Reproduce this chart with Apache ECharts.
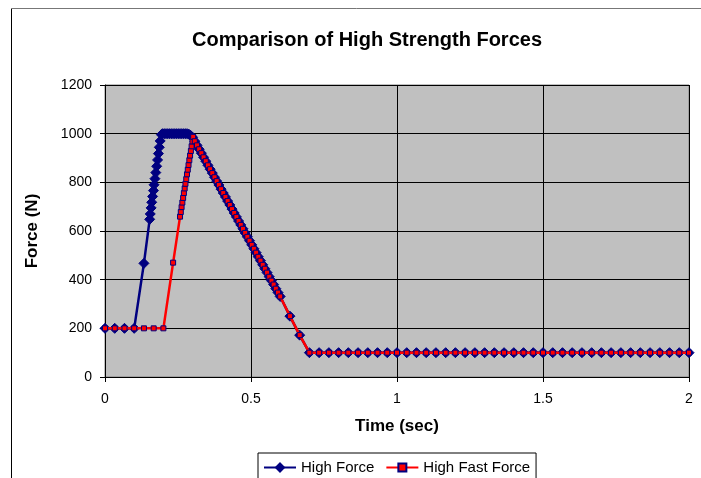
<!DOCTYPE html>
<html>
<head>
<meta charset="utf-8">
<script src="https://cdn.jsdelivr.net/npm/echarts@6/dist/echarts.min.js"></script>
<style>
  html, body { margin: 0; padding: 0; background: #fff; }
  #chart { width: 701px; height: 478px; }
</style>
</head>
<body>
<div id="chart"></div>
<script>
// ---- Data ----
const xTicks = [0, 0.5, 1, 1.5, 2];
const yTicks = [0, 200, 400, 600, 800, 1000, 1200];

// High Force: start + rise + plateau
const hfStartTime  = [0, 0.0333, 0.0667, 0.1, 0.1333, 0.153, 0.155, 0.158, 0.160, 0.163, 0.166, 0.168, 0.171, 0.174, 0.177, 0.180, 0.183, 0.186, 0.189, 0.193,
                      0.197, 0.203, 0.209, 0.215, 0.221, 0.227, 0.233, 0.239, 0.245, 0.251, 0.257, 0.263, 0.269, 0.275, 0.281, 0.287, 0.293];
const hfStartForce = [200, 200, 200, 200, 467, 648, 670, 695, 718, 742, 766, 790, 815, 840, 866, 892, 918, 944, 970, 996,
                      1000, 1000, 1000, 1000, 1000, 1000, 1000, 1000, 1000, 1000, 1000, 1000, 1000, 1000, 1000, 998, 993];

// High Fast Force: start + rise
const hffStartTime  = [0, 0.0333, 0.0667, 0.1, 0.1333, 0.1667, 0.2, 0.2333, 0.257, 0.2596, 0.2623, 0.2649, 0.2676, 0.2702, 0.2729, 0.2755, 0.2782, 0.2808,
                       0.2835, 0.2861, 0.2888, 0.2914, 0.2941, 0.2967, 0.2994, 0.302];
const hffStartForce = [200, 200, 200, 200, 200, 200, 200, 470, 659, 678, 698, 717, 736, 756, 775, 794, 813, 833,
                       852, 871, 891, 910, 929, 948, 968, 987];

// Shared descent (both series overlap)
const descentTime  = [0.3075, 0.315, 0.3225, 0.330, 0.3375, 0.345, 0.3525, 0.360, 0.3675, 0.375, 0.3825, 0.390, 0.3975, 0.405, 0.4125, 0.420, 0.4275, 0.435,
                      0.4425, 0.450, 0.4575, 0.465, 0.4725, 0.480, 0.4875, 0.495, 0.5025, 0.510, 0.5175, 0.525, 0.5325, 0.540, 0.5475, 0.555, 0.5625,
                      0.570, 0.5775, 0.585, 0.5925, 0.600, 0.6333, 0.6667];
const descentForce = [969, 952, 936, 920, 903, 887, 870, 854, 838, 821, 805, 789, 772, 756, 740, 723, 707, 690,
                      674, 658, 641, 625, 609, 592, 576, 560, 543, 527, 511, 494, 478, 461, 445, 429, 412,
                      396, 380, 363, 347, 331, 250, 172];

// Shared tail at 100 N
const tailTime  = [0.7, 0.7333, 0.7667, 0.8, 0.8333, 0.8667, 0.9, 0.9333, 0.9667, 1.0, 1.0333, 1.0667, 1.1, 1.1333, 1.1667, 1.2, 1.2333, 1.2667, 1.3, 1.3333,
                   1.3667, 1.4, 1.4333, 1.4667, 1.5, 1.5333, 1.5667, 1.6, 1.6333, 1.6667, 1.7, 1.7333, 1.7667, 1.8, 1.8333, 1.8667, 1.9, 1.9333, 1.9667, 2.0];
const tailForce = [100, 100, 100, 100, 100, 100, 100, 100, 100, 100, 100, 100, 100, 100, 100, 100, 100, 100, 100, 100,
                   100, 100, 100, 100, 100, 100, 100, 100, 100, 100, 100, 100, 100, 100, 100, 100, 100, 100, 100, 100];

const seriesNames = ['High Force', 'High Fast Force'];

function pairs(t, f) { return t.map((v, i) => [v, f[i]]); }

const hfData = pairs(hfStartTime, hfStartForce)
  .concat([[0.300, 985]])
  .concat(pairs(descentTime, descentForce))
  .concat(pairs(tailTime, tailForce));
const hffData = pairs(hffStartTime, hffStartForce)
  .concat(pairs(descentTime, descentForce))
  .concat(pairs(tailTime, tailForce));

const FONT = 'Liberation Sans, Arial, sans-serif';
const chart = echarts.init(document.getElementById('chart'), null, { renderer: 'canvas' });
chart.setOption({
  animation: false,
  backgroundColor: '#ffffff',
  title: {
    text: 'Comparison of High Strength Forces',
    left: 362, top: 25, textAlign: 'center',
    textStyle: { fontFamily: FONT, fontSize: 20, fontWeight: 'bold', color: '#000' }
  },
  graphic: [
    { type: 'line', shape: { x1: 11.5, y1: 8.5, x2: 11.5, y2: 478 }, style: { stroke: '#000', lineWidth: 1 }, silent: true },
    { type: 'line', shape: { x1: 11.5, y1: 8.5, x2: 701, y2: 8.5 }, style: { stroke: '#777', lineWidth: 1 }, silent: true }
  ],
  legend: {
    left: 258, top: 453,
    padding: [7, 6, 30, 5],
    itemGap: 11, itemWidth: 32, itemHeight: 10,
    borderColor: '#000', borderWidth: 1,
    textStyle: { fontFamily: FONT, fontSize: 15, color: '#000' },
    data: seriesNames
  },
  grid: {
    left: 105, top: 85, width: 584, height: 292,
    show: true, backgroundColor: '#c0c0c0', borderColor: '#808080', borderWidth: 1
  },
  xAxis: {
    type: 'value', min: xTicks[0], max: xTicks[xTicks.length - 1], interval: 0.5,
    name: 'Time (sec)', nameLocation: 'middle', nameGap: 41,
    nameTextStyle: { fontFamily: FONT, fontSize: 17, fontWeight: 'bold', color: '#000' },
    axisLine: { show: true, lineStyle: { color: '#000', width: 1 } },
    axisTick: { show: true, inside: false, length: 5, lineStyle: { color: '#000' } },
    axisLabel: { fontFamily: FONT, fontSize: 14, color: '#000', margin: 15, formatter: v => String(v) },
    splitLine: { show: true, lineStyle: { color: '#000', width: 1 } }
  },
  yAxis: {
    type: 'value', min: yTicks[0], max: yTicks[yTicks.length - 1], interval: 200,
    name: 'Force (N)', nameLocation: 'middle', nameGap: 64,
    nameTextStyle: { fontFamily: FONT, fontSize: 17, fontWeight: 'bold', color: '#000' },
    axisLine: { show: true, lineStyle: { color: '#000', width: 1 } },
    axisTick: { show: true, inside: false, length: 5, lineStyle: { color: '#000' } },
    axisLabel: { fontFamily: FONT, fontSize: 14, color: '#000', margin: 13, formatter: v => String(v) },
    splitLine: { show: true, lineStyle: { color: '#000', width: 1 } }
  },
  series: [
    {
      name: seriesNames[0], type: 'line', data: hfData, z: 2,
      symbol: 'diamond', symbolSize: 10, showSymbol: true,
      lineStyle: { color: '#000080', width: 2.5 },
      itemStyle: { color: '#000080', borderColor: '#000080', borderWidth: 1 }
    },
    {
      name: seriesNames[1], type: 'line', data: hffData, z: 3,
      symbol: 'rect', symbolSize: 5, showSymbol: true,
      lineStyle: { color: '#ff0000', width: 2.5 },
      itemStyle: { color: '#ff0000', borderColor: '#000080', borderWidth: 1 }
    }
  ]
});
</script>
</body>
</html>
